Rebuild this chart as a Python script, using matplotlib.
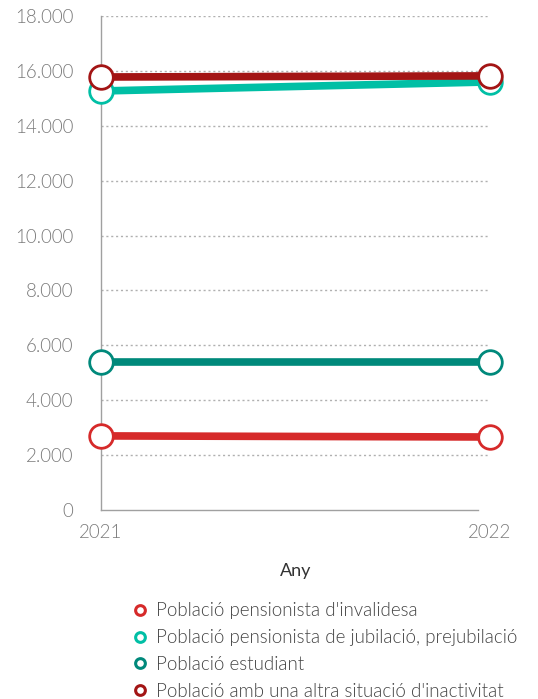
import matplotlib
matplotlib.use('Agg')
import matplotlib.pyplot as plt
from matplotlib.ticker import FuncFormatter

plt.rcParams['font.family'] = ['Lato', 'DejaVu Sans']

anys = [2021, 2022]
invalidesa = [2700, 2660]
jubilacio = [15270, 15600]
estudiant = [5390, 5390]
altra = [15780, 15820]

series = [
    ("Població pensionista d'invalidesa", invalidesa, '#d62a2a'),
    ("Població pensionista de jubilació, prejubilació", jubilacio, '#00bfa5'),
    ("Població estudiant", estudiant, '#00897b'),
    ("Població amb una altra situació d'inactivitat", altra, '#a31515'),
]
yticks = list(range(0, 18001, 2000))

fig = plt.figure(figsize=(5.38, 6.99), dpi=100)
ax = fig.add_axes([0.1877, 0.2704, 0.7233, 0.7066])

for nom, vals, col in series:
    ax.plot(anys, vals, color=col, lw=5.5, marker='o', ms=17,
            mfc='white', mec=col, mew=2, clip_on=False, zorder=3,
            solid_capstyle='butt')

ax.set_xlim(2021, 2022)
ax.set_ylim(0, 18000)
ax.set_yticks(yticks)
ax.yaxis.set_major_formatter(FuncFormatter(lambda v, p: f'{int(v):,}'.replace(',', '.')))
ax.set_xticks(anys)
for y in yticks[1:]:
    ax.axhline(y, xmax=0.995, color='#b0b0b0', lw=1, ls=(0, (1.5, 2)), zorder=1)

for s in ['top', 'right']:
    ax.spines[s].set_visible(False)
for s in ['left', 'bottom']:
    ax.spines[s].set_color('#a0a0a0')
    ax.spines[s].set_linewidth(1)
ax.spines['bottom'].set_bounds(2021, 1.97 + 2020)
ax.tick_params(length=0, labelsize=13.5, labelcolor='#7a7a7a')
ax.tick_params(axis='y', pad=20)
ax.tick_params(axis='x', pad=10)
for t in ax.get_xticklabels() + ax.get_yticklabels():
    t.set_fontweight(300)

ax.set_xlabel('Any', fontsize=13, color='#333333', labelpad=16)

handles = [plt.Line2D([], [], ls='none', marker='o', ms=7, mfc='white',
                      mec=col, mew=2.2) for _, _, col in series]
leg = fig.legend(handles, [s[0] for s in series], loc='upper left',
                 bbox_to_anchor=(0.228, 0.149), frameon=False,
                 prop={'size': 13.5, 'weight': 300},
                 handletextpad=0.4, labelspacing=0.52, handlelength=1,
                 labelcolor='#444444', borderaxespad=0)

fig.savefig('out.png', dpi=100)
